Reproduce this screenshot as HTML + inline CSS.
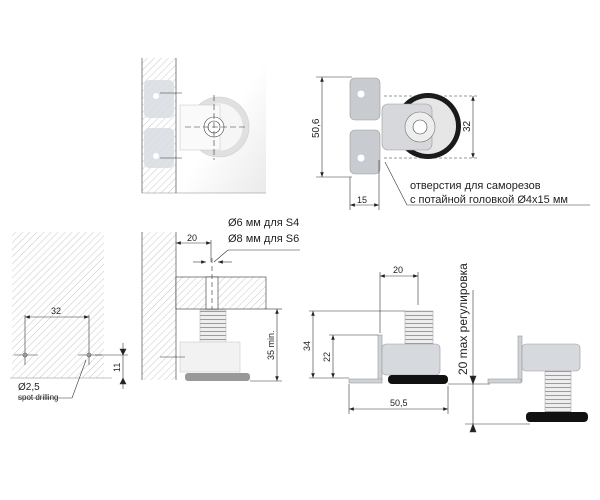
<!DOCTYPE html>
<html><head><meta charset="utf-8"><style>
body{margin:0;background:#fff}
svg{display:block}
text{font-family:"Liberation Sans",sans-serif;fill:#222}
</style></head><body>
<svg width="600" height="500" viewBox="0 0 600 500" xmlns="http://www.w3.org/2000/svg">
<defs>
<pattern id="h" width="5" height="5" patternUnits="userSpaceOnUse" patternTransform="rotate(45)">
<rect width="5" height="5" fill="#fff"/><line x1="0" y1="0" x2="0" y2="5" stroke="#c8c8c8" stroke-width="1"/></pattern>
<pattern id="sp" width="6" height="4" patternUnits="userSpaceOnUse">
<rect width="6" height="4" fill="#eee"/><line x1="0" y1="3.5" x2="6" y2="3.5" stroke="#888" stroke-width="0.8"/></pattern>
<linearGradient id="g" x1="0" y1="0" x2="1" y2="1"><stop offset="0.5" stop-color="#fff"/><stop offset="1" stop-color="#eaeaea"/></linearGradient>
<marker id="a" markerWidth="8" markerHeight="6" refX="8" refY="3" orient="auto-start-reverse"><path d="M0,0 L8,3 L0,6z" fill="#222"/></marker>
</defs>
<g stroke="#333" stroke-width="0.6" fill="none">
<!-- panel 1 -->
<rect x="176" y="58" width="90" height="135" fill="url(#g)" stroke="none"/>
<rect x="142" y="58" width="34" height="135" fill="url(#h)" stroke="none"/>
<line x1="142" y1="58" x2="142" y2="193"/><line x1="176" y1="58" x2="176" y2="193"/>
<line x1="142" y1="193" x2="266" y2="193" stroke="#888"/>
<rect x="144" y="80" width="30" height="38" rx="5" fill="#d8dde2" stroke="none" opacity=".85"/>
<rect x="144" y="128" width="30" height="40" rx="5" fill="#d8dde2" stroke="none" opacity=".85"/>
<circle cx="156" cy="96" r="3" fill="#fff" stroke="none"/><circle cx="156" cy="156" r="3" fill="#fff" stroke="none"/>
<circle cx="219" cy="127" r="30" fill="#e0e0e0" stroke="#ccc"/>
<circle cx="219" cy="127" r="24" fill="#f6f6f6" stroke="#ddd"/>
<rect x="180" y="105" width="40" height="45" fill="#fafafa" stroke="#ccc"/>
<circle cx="214" cy="127" r="10" fill="#fff" stroke="#444"/><circle cx="214" cy="127" r="6"/>
<line x1="185" y1="127" x2="245" y2="127" stroke-dasharray="6 3"/><line x1="214" y1="95" x2="214" y2="160" stroke-dasharray="6 3"/>
<line x1="160" y1="93" x2="182" y2="93"/><line x1="160" y1="158" x2="182" y2="158"/>
<!-- panel 2 -->
<circle cx="428" cy="126" r="33" fill="#1a1a1a" stroke="none"/>
<circle cx="428" cy="126" r="28" fill="#e6e6e6" stroke="none"/>
<rect x="350" y="78" width="30" height="42" rx="5" fill="#c8ccd0" stroke="#999"/>
<rect x="350" y="130" width="30" height="44" rx="5" fill="#c8ccd0" stroke="#999"/>
<circle cx="361" cy="94" r="3.5" fill="#fff" stroke="none"/><circle cx="361" cy="158" r="3.5" fill="#fff" stroke="none"/>
<rect x="382" y="104" width="50" height="46" rx="6" fill="#d6d8db" stroke="#999"/>
<circle cx="420" cy="127" r="15" fill="#eee" stroke="#777"/><circle cx="420" cy="127" r="7" fill="#fff" stroke="#444"/>
<line x1="322" y1="77" x2="322" y2="177" marker-start="url(#a)" marker-end="url(#a)"/>
<line x1="316" y1="77" x2="352" y2="77"/><line x1="316" y1="177" x2="352" y2="177"/>
<line x1="473" y1="96" x2="473" y2="158" marker-start="url(#a)" marker-end="url(#a)"/>
<line x1="384" y1="96" x2="478" y2="96" stroke-dasharray="3 2"/><line x1="384" y1="158" x2="478" y2="158" stroke-dasharray="3 2"/>
<line x1="350" y1="177" x2="350" y2="210"/><line x1="379" y1="160" x2="379" y2="210"/>
<line x1="350" y1="205" x2="379" y2="205" marker-start="url(#a)" marker-end="url(#a)"/>
<line x1="385" y1="162" x2="407" y2="205"/><line x1="407" y1="205" x2="590" y2="205"/>
<!-- panel 3 -->
<rect x="12" y="232" width="92" height="146" fill="url(#h)" stroke="none"/>
<line x1="10" y1="378" x2="112" y2="378" stroke="#888"/>
<line x1="25" y1="317" x2="89" y2="317" marker-start="url(#a)" marker-end="url(#a)"/>
<line x1="25" y1="315" x2="25" y2="365"/><line x1="89" y1="315" x2="89" y2="365"/>
<line x1="14" y1="355" x2="38" y2="355"/><line x1="78" y1="355" x2="102" y2="355"/><line x1="95" y1="355" x2="128" y2="355"/>
<circle cx="25" cy="355" r="2"/><circle cx="89" cy="355" r="2"/>
<line x1="123" y1="343" x2="123" y2="389"/>
<path d="M120,349 L123,355 L126,349z M120,384 L123,378 L126,384z" fill="#222"/>
<line x1="86" y1="360" x2="72" y2="398"/><line x1="18" y1="398" x2="72" y2="398"/>
<!-- panel 4 -->
<rect x="142" y="232" width="34" height="148" fill="url(#h)" stroke="none"/>
<line x1="142" y1="232" x2="142" y2="380"/><line x1="176" y1="232" x2="176" y2="380"/>
<rect x="176" y="277" width="90" height="32" fill="url(#h)"/>
<rect x="206" y="277" width="12" height="32" fill="#fff"/>
<line x1="212" y1="258" x2="212" y2="309" stroke-dasharray="5 3"/>
<line x1="176" y1="243" x2="211" y2="243" marker-start="url(#a)" marker-end="url(#a)"/>
<line x1="211" y1="240" x2="211" y2="262"/>
<line x1="193" y1="262" x2="206" y2="262" marker-end="url(#a)"/><line x1="232" y1="262" x2="218" y2="262" marker-end="url(#a)"/>
<line x1="214" y1="262" x2="228" y2="250"/><line x1="228" y1="250" x2="300" y2="250"/>
<rect x="200" y="310" width="26" height="34" fill="url(#sp)" stroke="#bbb"/>
<rect x="180" y="342" width="60" height="30" fill="#f2f2f2" stroke="#ccc"/>
<rect x="185" y="373" width="65" height="8" rx="3" fill="#999" stroke="none"/>
<line x1="160" y1="357" x2="185" y2="357"/>
<line x1="277" y1="309" x2="277" y2="381" marker-start="url(#a)" marker-end="url(#a)"/>
<line x1="266" y1="309" x2="282" y2="309"/><line x1="250" y1="381" x2="282" y2="381"/>
<!-- panel 5 -->
<rect x="405" y="311" width="28" height="36" fill="url(#sp)" stroke="#aaa"/>
<rect x="378" y="335" width="4" height="46" fill="#cfd3d8" stroke="#999"/>
<rect x="349" y="379" width="33" height="4" fill="#cfd3d8" stroke="#999"/>
<rect x="382" y="344" width="58" height="31" rx="4" fill="#d6d9dd" stroke="#999"/>
<rect x="388" y="375" width="60" height="9" rx="4" fill="#111" stroke="none"/>
<line x1="380" y1="276" x2="418" y2="276" marker-start="url(#a)" marker-end="url(#a)"/>
<line x1="380" y1="272" x2="380" y2="333"/><line x1="418" y1="272" x2="418" y2="305"/>
<line x1="313" y1="311" x2="313" y2="378" marker-start="url(#a)" marker-end="url(#a)"/>
<line x1="309" y1="311" x2="405" y2="311"/>
<line x1="333" y1="335" x2="333" y2="378" marker-start="url(#a)" marker-end="url(#a)"/>
<line x1="329" y1="335" x2="378" y2="335"/><line x1="309" y1="378" x2="349" y2="378"/>
<line x1="349" y1="384" x2="349" y2="414"/><line x1="448" y1="386" x2="448" y2="414"/>
<line x1="349" y1="409" x2="448" y2="409" marker-start="url(#a)" marker-end="url(#a)"/>
<line x1="473" y1="290" x2="473" y2="430"/>
<path d="M470,376 L473,384 L476,376z M470,432 L473,424 L476,432z" fill="#222"/>
<line x1="448" y1="384" x2="490" y2="384"/><line x1="465" y1="424" x2="530" y2="424"/>
<rect x="545" y="368" width="26" height="44" fill="url(#sp)" stroke="#aaa"/>
<rect x="518" y="336" width="4" height="46" fill="#cfd3d8" stroke="#999"/>
<rect x="488" y="379" width="33" height="4" fill="#cfd3d8" stroke="#999"/>
<rect x="522" y="344" width="58" height="27" rx="4" fill="#d6d9dd" stroke="#999"/>
<rect x="526" y="412" width="62" height="10" rx="4" fill="#111" stroke="none"/>
</g>
<g font-size="10">
<text x="410" y="189" font-size="11">отверстия для саморезов</text>
<text x="410" y="203" font-size="11">с потайной головкой Ø4х15 мм</text>
<text x="357" y="203" font-size="9">15</text>
<text transform="translate(319,138) rotate(-90)" font-size="10">50,6</text>
<text transform="translate(470,132) rotate(-90)" font-size="10">32</text>
<text x="51" y="314" font-size="9">32</text>
<text transform="translate(120,372) rotate(-90)" font-size="9">11</text>
<text x="18" y="390" font-size="10">Ø2,5</text>
<text x="18" y="400" font-size="8">spot drilling</text>
<text x="187" y="241" font-size="9">20</text>
<text x="228" y="226" font-size="11">Ø6 мм для S4</text>
<text x="228" y="242" font-size="11">Ø8 мм для S6</text>
<text transform="translate(274,360) rotate(-90)" font-size="9">35 min.</text>
<text x="393" y="273" font-size="9">20</text>
<text transform="translate(310,351) rotate(-90)" font-size="9">34</text>
<text transform="translate(330,362) rotate(-90)" font-size="9">22</text>
<text x="390" y="406" font-size="9">50,5</text>
<text transform="translate(467,375) rotate(-90)" font-size="12">20 max регулировка</text>
</g>
</svg>
</body></html>
